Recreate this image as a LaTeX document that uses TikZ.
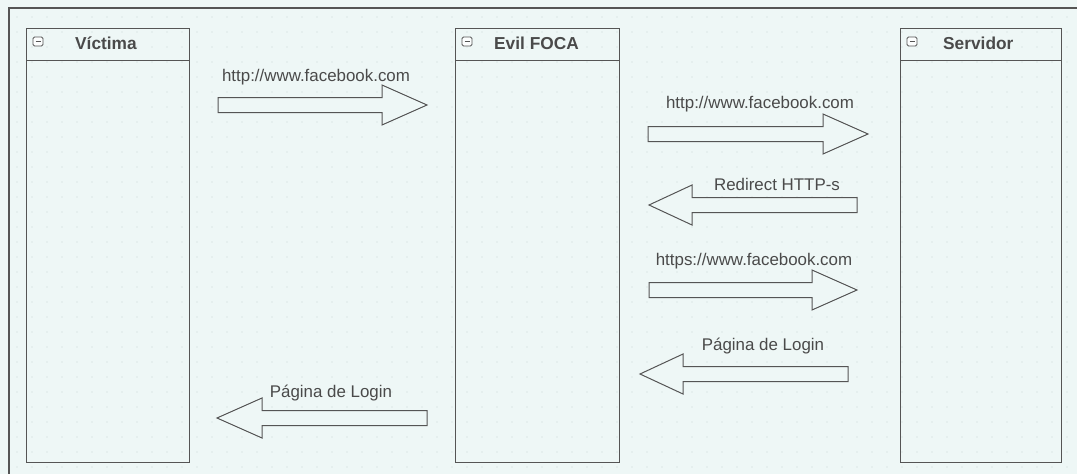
\documentclass[tikz,border=0pt]{standalone}
\usepackage{fontspec}
\setmainfont{Liberation Sans}
\definecolor{linegray}{HTML}{555555}
\definecolor{textgray}{HTML}{4A4A4A}
\definecolor{paper}{HTML}{EEF7F6}
\definecolor{dotgray}{HTML}{C9D5D5}

\begin{document}
\begin{tikzpicture}[x=1pt,y=-1pt,
  lifeline/.style={draw=linegray,line width=1pt,minimum height=434pt,
    anchor=north west,inner sep=0pt},
  lanetitle/.style={text=textgray,font=\fontsize{17.3}{20}\selectfont\bfseries,
    anchor=base west,inner sep=0pt},
  msglabel/.style={text=textgray,font=\fontsize{16.9}{19}\selectfont,
    anchor=base,inner sep=0pt},
  fatarrow/.style={draw=linegray,line width=1pt,fill=paper,line join=miter}]
  \fill[paper] (0,0) rectangle (1077,474);
  \useasboundingbox (0,0) rectangle (1077,474);

  % grid of dots
  \foreach \x in {17,32,...,1067} {
    \foreach \y in {17,32,...,467} {
      \fill[dotgray] (\x,\y) circle (0.55pt);
    }
  }

  % frame
  \draw[linegray,line width=1.4pt] (9,474) -- (9,8) -- (1077,8);

  % lifelines
  \foreach \name/\title/\xl/\w/\tx in {victima/Víctima/26/163/75,
      foca/Evil FOCA/455/164/494, servidor/Servidor/900/161/943} {
    \node[lifeline,minimum width=\w pt] (\name) at (\xl,28) {};
    \draw[linegray,line width=1pt] ([yshift=-32pt]\name.north west)
      -- ([yshift=-32pt]\name.north east);
    \node[lanetitle] (\name-title) at (\tx,49.5) {\title};
    \draw[linegray,line width=0.8pt,fill=white!85!paper,rounded corners=1.5pt]
      (\xl+7,37) rectangle (\xl+17,46);
    \draw[linegray,line width=1pt] (\xl+9.5,41.5) -- (\xl+14.5,41.5);
  }

  % messages
  \foreach \n/\tail/\hb/\tip/\y/\lx/\ly/\txt in {
      1/218/382/427/105/316/81/{http://www.facebook.com},
      2/648/823/868/134/760/108/{http://www.facebook.com},
      3/857/692/649/205/777/190/{Redirect HTTP-s},
      4/649/812/857/290/754/265/{https://www.facebook.com},
      5/848/683/640/374/763/350/{Página de Login},
      6/427/262/217/418/331/397/{Página de Login}} {
    \draw[fatarrow] (\tail,\y-7.5) -- (\hb,\y-7.5) -- (\hb,\y-20)
      -- (\tip,\y) -- (\hb,\y+20) -- (\hb,\y+7.5) -- (\tail,\y+7.5) -- cycle;
    \node[msglabel] (msg\n) at (\lx,\ly) {\txt};
  }
\end{tikzpicture}
\end{document}
